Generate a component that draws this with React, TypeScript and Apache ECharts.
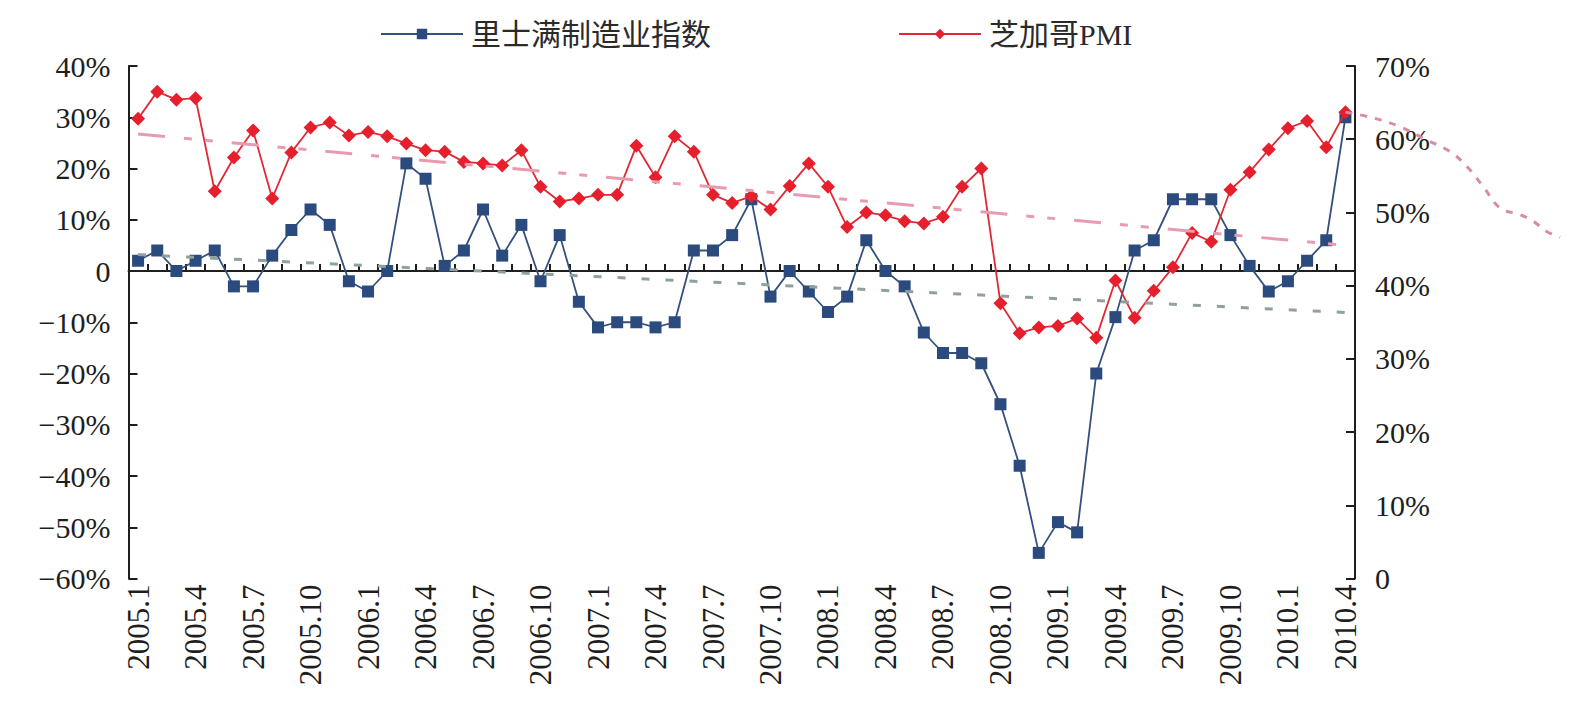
import { useEffect, useRef } from "react";
import * as echarts from "echarts";

// Monthly categories, 2005.1 – 2010.4
const months: string[] = [
  "2005.1", "2005.2", "2005.3", "2005.4", "2005.5", "2005.6", "2005.7", "2005.8", "2005.9", "2005.10", "2005.11", "2005.12",
  "2006.1", "2006.2", "2006.3", "2006.4", "2006.5", "2006.6", "2006.7", "2006.8", "2006.9", "2006.10", "2006.11", "2006.12",
  "2007.1", "2007.2", "2007.3", "2007.4", "2007.5", "2007.6", "2007.7", "2007.8", "2007.9", "2007.10", "2007.11", "2007.12",
  "2008.1", "2008.2", "2008.3", "2008.4", "2008.5", "2008.6", "2008.7", "2008.8", "2008.9", "2008.10", "2008.11", "2008.12",
  "2009.1", "2009.2", "2009.3", "2009.4", "2009.5", "2009.6", "2009.7", "2009.8", "2009.9", "2009.10", "2009.11", "2009.12",
  "2010.1", "2010.2", "2010.3", "2010.4",
];

// 里士满制造业指数 (left axis, %)
const richmond: number[] = [
  2, 4, 0, 2, 4, -3, -3, 3, 8, 12, 9, -2,
  -4, 0, 21, 18, 1, 4, 12, 3, 9, -2, 7, -6,
  -11, -10, -10, -11, -10, 4, 4, 7, 14, -5, 0, -4,
  -8, -5, 6, 0, -3, -12, -16, -16, -18, -26, -38, -55,
  -49, -51, -20, -9, 4, 6, 14, 14, 14, 7, 1, -4,
  -2, 2, 6, 30,
];

// 芝加哥PMI (right axis, %)
const chicagoPmi: number[] = [
  62.8, 66.5, 65.4, 65.6, 52.9, 57.5, 61.2, 51.9, 58.2, 61.6, 62.3, 60.5,
  61.0, 60.4, 59.4, 58.5, 58.3, 56.9, 56.7, 56.4, 58.5, 53.5, 51.5, 51.9,
  52.4, 52.4, 59.1, 54.8, 60.4, 58.3, 52.4, 51.3, 52.2, 50.4, 53.6, 56.7,
  53.5, 48.0, 50.0, 49.6, 48.8, 48.5, 49.4, 53.5, 56.0, 37.6, 33.5, 34.3,
  34.5, 35.5, 32.9, 40.7, 35.6, 39.3, 42.5, 47.2, 46.0, 53.1, 55.5, 58.6,
  61.5, 62.5, 58.9, 63.7,
];

// Linear trend end points: [month index, value]
const richmondTrend: [number, number][] = [[0, 3.2], [63, -8.1]];
const pmiTrend: [number, number][] = [[0, 60.7], [63, 45.5]];

// Dotted PMI projection past the last month (month index, %)
const outlookMonths: number[] = [63, 64.46, 65.85, 67.24, 68.46, 69.33, 70.2, 71.07, 72.1, 72.8, 73.5, 74.2];
const outlookValues: number[] = [63.7, 62.9, 61.7, 59.9, 58.3, 56.3, 53.5, 50.6, 49.7, 48.8, 47.4, 46.6];

const leftTicks = { min: -60, max: 40, step: 10 };
const rightTicks = { min: 0, max: 70, step: 10 };

const RICHMOND = "里士满制造业指数";
const PMI = "芝加哥PMI";

const FONT = '"Liberation Serif", "Times New Roman", "Noto Sans CJK SC", serif';
const INK = "#1e1e1e";

const PLOT_LEFT = 128.5;
const PLOT_RIGHT = 1355;
const PLOT_TOP = 66;
const PLOT_BOTTOM = 578.5;
const MONTH_W = (PLOT_RIGHT - PLOT_LEFT) / months.length;
const OUTLOOK_SPAN = 76;

const pct = (v: number) => (v === 0 ? "0" : (v < 0 ? "\u2212" + Math.abs(v) : String(v)) + "%");

export default function App() {
  const ref = useRef<HTMLDivElement>(null);

  useEffect(() => {
    if (!ref.current) return;
    const chart = echarts.init(ref.current, undefined, { renderer: "svg" });

    const axisLine = { show: true, onZero: false, lineStyle: { color: INK, width: 2 } };
    const axisTick = { show: true, inside: true, length: 9, lineStyle: { color: INK, width: 2 } };
    const labelBase = { color: INK, fontFamily: FONT, fontSize: 30 };

    const legendBase = {
      top: 14,
      itemWidth: 82,
      itemHeight: 13,
      selectedMode: false,
      textStyle: { color: "#2a2a2a", fontFamily: FONT, fontSize: 30, padding: [0, 0, 0, 3] },
    };

    chart.setOption({
      animation: false,
      backgroundColor: "#ffffff",
      textStyle: { fontFamily: FONT },
      legend: [
        { ...legendBase, left: 375, data: [RICHMOND] },
        { ...legendBase, left: 893, data: [PMI] },
      ],
      grid: [
        { left: PLOT_LEFT, top: PLOT_TOP, width: PLOT_RIGHT - PLOT_LEFT, height: PLOT_BOTTOM - PLOT_TOP },
        { left: PLOT_LEFT, top: PLOT_TOP, width: MONTH_W * OUTLOOK_SPAN, height: PLOT_BOTTOM - PLOT_TOP },
      ],
      xAxis: [
        {
          type: "category",
          gridIndex: 0,
          data: months,
          axisLine: { show: true, onZero: true, onZeroAxisIndex: 0, lineStyle: { color: INK, width: 2 } },
          axisTick: { show: true, inside: true, length: 7, interval: 0, lineStyle: { color: INK, width: 2 } },
          axisLabel: { show: false },
          splitLine: { show: false },
        },
        {
          type: "category",
          gridIndex: 0,
          position: "bottom",
          data: months,
          axisLine: { show: false, onZero: false },
          axisTick: { show: false },
          axisLabel: { ...labelBase, fontSize: 31, interval: 2, rotate: 90, margin: 6 },
          splitLine: { show: false },
        },
        {
          type: "value",
          gridIndex: 1,
          min: -0.5,
          max: OUTLOOK_SPAN - 0.5,
          show: false,
        },
      ],
      yAxis: [
        {
          type: "value",
          gridIndex: 0,
          position: "left",
          min: leftTicks.min,
          max: leftTicks.max,
          interval: leftTicks.step,
          axisLine,
          axisTick,
          axisLabel: { ...labelBase, margin: 18, formatter: pct },
          splitLine: { show: false },
        },
        {
          type: "value",
          gridIndex: 0,
          position: "right",
          min: rightTicks.min,
          max: rightTicks.max,
          interval: rightTicks.step,
          axisLine,
          axisTick,
          axisLabel: { ...labelBase, margin: 20, formatter: pct },
          splitLine: { show: false },
        },
        {
          type: "value",
          gridIndex: 1,
          min: rightTicks.min,
          max: rightTicks.max,
          show: false,
        },
      ],
      series: [
        {
          name: RICHMOND,
          type: "line",
          xAxisIndex: 0,
          yAxisIndex: 0,
          data: richmond,
          symbol: "rect",
          symbolSize: 12,
          showSymbol: true,
          showAllSymbol: true,
          lineStyle: { color: "#34507c", width: 1.8 },
          itemStyle: { color: "#2b4a7e" },
          z: 3,
        },
        {
          name: PMI,
          type: "line",
          xAxisIndex: 0,
          yAxisIndex: 1,
          data: chicagoPmi,
          symbol: "diamond",
          symbolSize: 14,
          showSymbol: true,
          showAllSymbol: true,
          lineStyle: { color: "#df2a35", width: 1.8 },
          itemStyle: { color: "#e5202c" },
          z: 4,
        },
        {
          name: "richmond-trend",
          type: "line",
          xAxisIndex: 0,
          yAxisIndex: 0,
          data: richmondTrend,
          symbol: "none",
          lineStyle: { color: "#8ea29b", width: 3, type: [8, 16] },
          z: 5,
        },
        {
          name: "pmi-trend",
          type: "line",
          xAxisIndex: 0,
          yAxisIndex: 1,
          data: pmiTrend,
          symbol: "none",
          lineStyle: { color: "#e99aaf", width: 3, type: [27, 19, 8, 13, 8, 19] },
          z: 5,
        },
        {
          name: "pmi-outlook",
          type: "line",
          xAxisIndex: 2,
          yAxisIndex: 2,
          data: outlookMonths.map((m, i) => [m, outlookValues[i]]),
          smooth: 0.4,
          symbol: "none",
          lineStyle: { color: "#d98ba3", width: 3, type: [7, 8] },
          z: 5,
        },
      ],
    });

    return () => chart.dispose();
  }, []);

  return (
    <div
      ref={ref}
      style={{ position: "fixed", left: 0, top: 0, width: 1586, height: 706, background: "#fff" }}
    />
  );
}
